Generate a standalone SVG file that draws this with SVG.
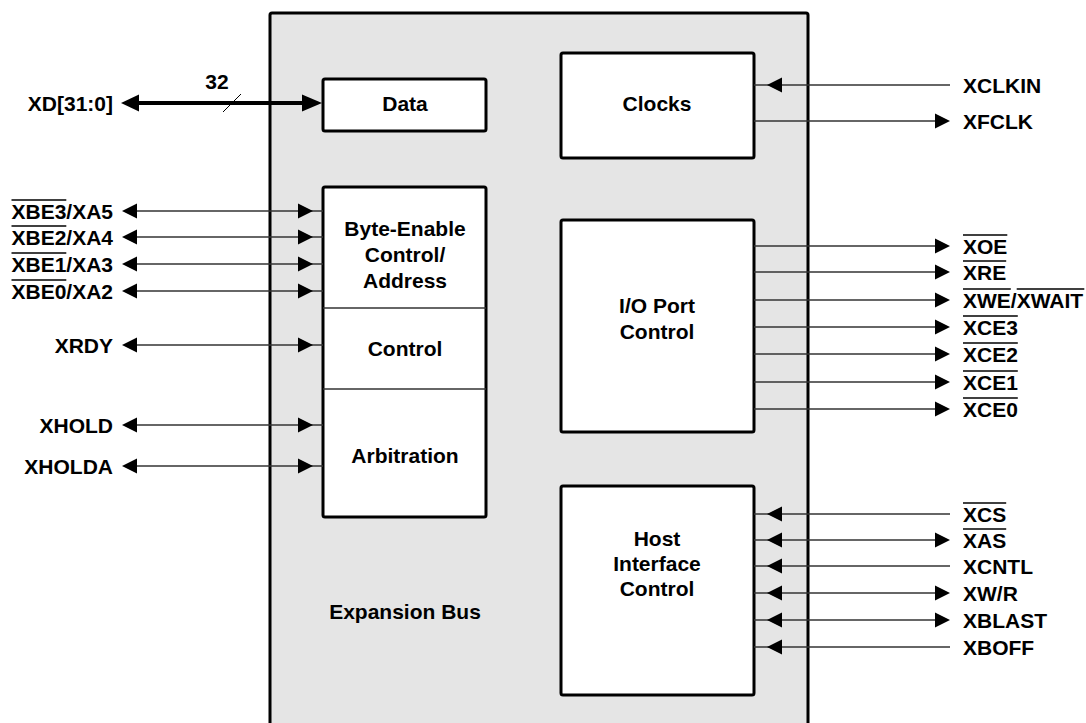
<svg xmlns="http://www.w3.org/2000/svg" xmlns:xlink="http://www.w3.org/1999/xlink" width="1086" height="723" viewBox="0 0 1086 723">
<style>
text{font-family:"Liberation Sans",Arial,Helvetica,sans-serif;font-weight:bold;font-size:21px;fill:#000}
.c{text-anchor:middle}
.e{text-anchor:end}
.box{fill:#fff;stroke:#000;stroke-width:3}
.ln{stroke:#333;stroke-width:1.5;fill:none}
.ol{stroke:#000;stroke-width:1.4}
</style>
<defs>
<path id="ar" d="M0,0 L-15,-7.5 L-15,7.5 Z" fill="#000"/>
<path id="al" d="M0,0 L15,-7.5 L15,7.5 Z" fill="#000"/>
</defs>
<g id="expansion-bus">
<rect x="270" y="13" width="538" height="720" rx="2" fill="#e5e5e5" stroke="#000" stroke-width="3"/>
<text class="c" x="405" y="619">Expansion Bus</text>
</g>
<g id="data">
<rect class="box" x="323" y="79" width="163" height="52" rx="2"/>
<text class="c" x="405" y="111">Data</text>
</g>
<g id="bec">
<rect class="box" x="323" y="187" width="163" height="330" rx="2"/>
<line class="ln" x1="323" y1="308" x2="486" y2="308"/>
<line class="ln" x1="323" y1="389" x2="486" y2="389"/>
<text class="c" x="405" y="236">Byte-Enable</text>
<text class="c" x="405" y="262">Control/</text>
<text class="c" x="405" y="288">Address</text>
<text class="c" x="405" y="356">Control</text>
<text class="c" x="405" y="463">Arbitration</text>
</g>
<g id="clocks">
<rect class="box" x="561" y="53" width="193" height="105" rx="2"/>
<text class="c" x="657" y="111">Clocks</text>
</g>
<g id="io">
<rect class="box" x="561" y="220" width="193" height="212" rx="2"/>
<text class="c" x="657" y="313">I/O Port</text>
<text class="c" x="657" y="339">Control</text>
</g>
<g id="host">
<rect class="box" x="561" y="486" width="193" height="209" rx="2"/>
<text class="c" x="657" y="546">Host</text>
<text class="c" x="657" y="571">Interface</text>
<text class="c" x="657" y="596">Control</text>
</g>
<g id="connectors">
<line x1="130" y1="103" x2="305" y2="103" stroke="#000" stroke-width="4"/>
<path d="M121,103 L139,94.5 L139,111.5 Z"/>
<path d="M322,103 L302,94.5 L302,111.5 Z"/>
<line x1="223" y1="112" x2="241" y2="94" stroke="#000" stroke-width="1"/>
<g class="ln">
<line x1="130" y1="211" x2="323" y2="211"/>
<line x1="130" y1="237" x2="323" y2="237"/>
<line x1="130" y1="264" x2="323" y2="264"/>
<line x1="130" y1="291" x2="323" y2="291"/>
<line x1="130" y1="345" x2="323" y2="345"/>
<line x1="130" y1="425" x2="323" y2="425"/>
<line x1="130" y1="466" x2="323" y2="466"/>
<line x1="754" y1="85" x2="950" y2="85"/>
<line x1="754" y1="121" x2="940" y2="121"/>
<line x1="754" y1="246" x2="940" y2="246"/>
<line x1="754" y1="272" x2="940" y2="272"/>
<line x1="754" y1="300" x2="940" y2="300"/>
<line x1="754" y1="327" x2="940" y2="327"/>
<line x1="754" y1="354" x2="940" y2="354"/>
<line x1="754" y1="382" x2="940" y2="382"/>
<line x1="754" y1="409" x2="940" y2="409"/>
<line x1="754" y1="514" x2="950" y2="514"/>
<line x1="754" y1="540" x2="940" y2="540"/>
<line x1="754" y1="566" x2="950" y2="566"/>
<line x1="754" y1="593" x2="940" y2="593"/>
<line x1="754" y1="620" x2="940" y2="620"/>
<line x1="754" y1="647" x2="950" y2="647"/>
</g>
<use xlink:href="#al" x="122" y="211"/><use xlink:href="#ar" x="313" y="211"/>
<use xlink:href="#al" x="122" y="237"/><use xlink:href="#ar" x="313" y="237"/>
<use xlink:href="#al" x="122" y="264"/><use xlink:href="#ar" x="313" y="264"/>
<use xlink:href="#al" x="122" y="291"/><use xlink:href="#ar" x="313" y="291"/>
<use xlink:href="#al" x="122" y="345"/><use xlink:href="#ar" x="313" y="345"/>
<use xlink:href="#al" x="122" y="425"/><use xlink:href="#ar" x="313" y="425"/>
<use xlink:href="#al" x="122" y="466"/><use xlink:href="#ar" x="313" y="466"/>
<use xlink:href="#al" x="767" y="85"/>
<use xlink:href="#ar" x="950" y="121"/>
<use xlink:href="#ar" x="950" y="246"/>
<use xlink:href="#ar" x="950" y="272"/>
<use xlink:href="#ar" x="950" y="300"/>
<use xlink:href="#ar" x="950" y="327"/>
<use xlink:href="#ar" x="950" y="354"/>
<use xlink:href="#ar" x="950" y="382"/>
<use xlink:href="#ar" x="950" y="409"/>
<use xlink:href="#al" x="767" y="514"/>
<use xlink:href="#al" x="767" y="540"/><use xlink:href="#ar" x="950" y="540"/>
<use xlink:href="#al" x="767" y="566"/>
<use xlink:href="#al" x="767" y="593"/><use xlink:href="#ar" x="950" y="593"/>
<use xlink:href="#al" x="767" y="620"/><use xlink:href="#ar" x="950" y="620"/>
<use xlink:href="#al" x="767" y="647"/>
</g>
<g id="labels">
<text class="c" x="217" y="89">32</text>
<text class="e" x="113" y="110.5">XD[31:0]</text>
<text class="e" x="113" y="218.5">XBE3/XA5</text>
<text class="e" x="113" y="244.5">XBE2/XA4</text>
<text class="e" x="113" y="271.5">XBE1/XA3</text>
<text class="e" x="113" y="298.5">XBE0/XA2</text>
<text class="e" x="113" y="352.5">XRDY</text>
<text class="e" x="113" y="432.5">XHOLD</text>
<text class="e" x="113" y="473.5">XHOLDA</text>
<text x="963" y="92.5">XCLKIN</text>
<text x="963" y="128.5">XFCLK</text>
<text x="963" y="253.5">XOE</text>
<text x="963" y="279.5">XRE</text>
<text x="963" y="307.5">XWE/XWAIT</text>
<text x="963" y="334.5">XCE3</text>
<text x="963" y="361.5">XCE2</text>
<text x="963" y="389.5">XCE1</text>
<text x="963" y="416.5">XCE0</text>
<text x="963" y="521.5">XCS</text>
<text x="963" y="547.5">XAS</text>
<text x="963" y="573.5">XCNTL</text>
<text x="963" y="600.5">XW/R</text>
<text x="963" y="627.5">XBLAST</text>
<text x="963" y="654.5">XBOFF</text>
</g>
<g id="overlines" class="ol">
<line x1="11.5" y1="200" x2="66.3" y2="200"/>
<line x1="11.5" y1="226" x2="66.3" y2="226"/>
<line x1="11.5" y1="253" x2="66.3" y2="253"/>
<line x1="11.5" y1="280" x2="66.3" y2="280"/>
<line x1="963" y1="235" x2="1007.3" y2="235"/>
<line x1="963" y1="261" x2="1006.2" y2="261"/>
<line x1="963" y1="289" x2="1010.8" y2="289"/>
<line x1="1016.7" y1="289" x2="1084.3" y2="289"/>
<line x1="963" y1="316" x2="1017.8" y2="316"/>
<line x1="963" y1="343" x2="1017.8" y2="343"/>
<line x1="963" y1="371" x2="1017.8" y2="371"/>
<line x1="963" y1="398" x2="1017.8" y2="398"/>
<line x1="963" y1="503" x2="1006.2" y2="503"/>
<line x1="963" y1="529" x2="1006.2" y2="529"/>
</g>
</svg>
